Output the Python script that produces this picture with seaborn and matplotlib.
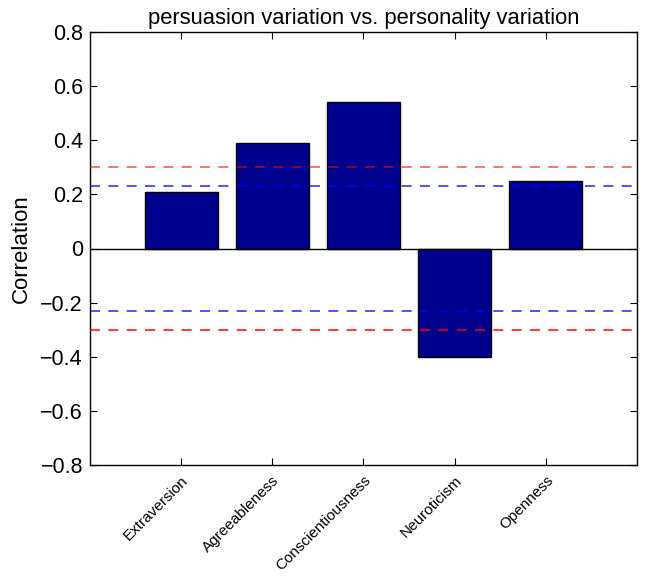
import matplotlib
matplotlib.use("Agg")
import matplotlib.pyplot as plt
import seaborn as sns
import pandas as pd

traits = ["Extraversion", "Agreeableness", "Conscientiousness", "Neuroticism", "Openness"]
correlation = [0.21, 0.39, 0.54, -0.40, 0.25]
red_threshold = 0.30
blue_threshold = 0.23

sns.set_theme(style="white")
plt.rcParams["font.family"] = ["Liberation Sans", "DejaVu Sans"]
plt.rcParams["text.color"] = "black"
plt.rcParams["axes.labelcolor"] = "black"
plt.rcParams["xtick.color"] = "black"
plt.rcParams["ytick.color"] = "black"

df = pd.DataFrame({"trait": traits, "corr": correlation})

fig = plt.figure(figsize=(6.47, 5.76), dpi=100)
ax = fig.add_axes([90 / 647, 1 - 465 / 576, (637 - 90) / 647, (465 - 32) / 576])

sns.barplot(data=df, x="trait", y="corr", color=(0, 0, 0.56), saturation=1,
            width=0.8, edgecolor="black", linewidth=1.0, ax=ax, zorder=2)

dash = (0, (6, 5))
ax.axhline(0, color="black", linewidth=1.0, zorder=3)
ax.axhline(red_threshold, color="red", alpha=0.65, linestyle=dash, linewidth=1.2, zorder=4)
ax.axhline(blue_threshold, color="blue", alpha=0.8, linestyle=dash, linewidth=1.2, zorder=4)
ax.axhline(-blue_threshold, color="blue", alpha=0.8, linestyle=dash, linewidth=1.2, zorder=4)
ax.axhline(-red_threshold, color="red", alpha=0.9, linestyle=dash, linewidth=1.2, zorder=4)

ax.set_xlim(-1, 5)
ax.set_ylim(-0.8, 0.8)
ax.set_yticks([-0.8, -0.6, -0.4, -0.2, 0, 0.2, 0.4, 0.6, 0.8])
ax.set_yticklabels(["\u22120.8", "\u22120.6", "\u22120.4", "\u22120.2", "0", "0.2", "0.4", "0.6", "0.8"],
                   fontsize=15.5)
ax.set_xticks(range(len(traits)))
ax.set_xticklabels(traits, rotation=45, ha="right", rotation_mode="anchor", fontsize=11)

ax.tick_params(axis="both", direction="in", length=5, width=0.8,
               top=True, right=True, bottom=True, left=True)
ax.tick_params(axis="x", pad=6, colors="black")
ax.tick_params(axis="y", pad=5, colors="black")

for s in ax.spines.values():
    s.set_visible(True)
    s.set_color("black")
    s.set_linewidth(1.0)

ax.set_xlabel("")
ax.set_ylabel("Correlation", fontsize=16, labelpad=6, color="black")
ax.set_title("persuasion variation vs. personality variation", fontsize=15.8, pad=6, color="black")

fig.savefig("out.png", dpi=100)
